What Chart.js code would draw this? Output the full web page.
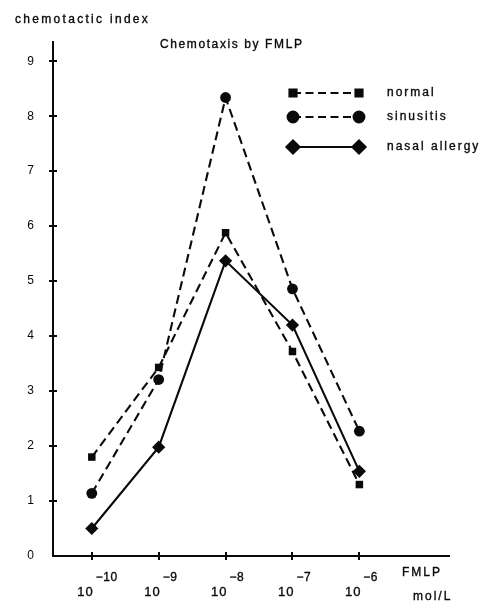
<!DOCTYPE html>
<html>
<head>
<meta charset="utf-8">
<script src="https://cdn.jsdelivr.net/npm/chart.js@4.4.1/dist/chart.umd.min.js"></script>
<style>
  html, body { margin: 0; padding: 0; background: #fff; }
</style>
</head>
<body>
<canvas id="chemotaxisChart" width="482" height="605"></canvas>
<script>
// FMLP concentration, as powers of ten (mol/L)
const exponents = [-10, -9, -8, -7, -6];
const exponentLabels = ['\u221210', '\u22129', '\u22128', '\u22127', '\u22126'];
const yTicks = [0, 1, 2, 3, 4, 5, 6, 7, 8, 9];

// chemotactic index
const normal = [1.8, 3.43, 5.88, 3.72, 1.3];
const sinusitis = [1.14, 3.21, 8.34, 4.86, 2.27];
const nasalAllergy = [0.5, 1.98, 5.37, 4.2, 1.54];
const seriesNames = ['normal', 'sinusitis', 'nasal allergy'];

const FONT = '"Liberation Sans", Arial, Helvetica, sans-serif';
const INK = '#0a0a0a';

const toPoints = (values) => values.map((v, i) => ({ x: exponents[i], y: v }));

// slightly heavier text, like the printed figure
function inkText(ctx, text, x, y) {
  ctx.fillText(text, x, y);
  ctx.strokeText(text, x, y);
}

// extra text, crossing tick marks and the legend
const decorations = {
  id: 'decorations',
  afterDraw(chart) {
    const { ctx, chartArea, scales: { x, y } } = chart;
    ctx.save();
    ctx.strokeStyle = INK;
    ctx.fillStyle = INK;
    ctx.lineWidth = 2;

    // tick marks crossing both axes
    yTicks.forEach(v => {
      if (v === 0) return;
      const py = Math.round(y.getPixelForValue(v));
      ctx.beginPath();
      ctx.moveTo(chartArea.left - 4, py);
      ctx.lineTo(chartArea.left + 4, py);
      ctx.stroke();
    });
    exponents.forEach(v => {
      const px = Math.round(x.getPixelForValue(v));
      ctx.beginPath();
      ctx.moveTo(px, chartArea.bottom - 4);
      ctx.lineTo(px, chartArea.bottom + 4);
      ctx.stroke();
    });

    ctx.lineWidth = 0.35;
    ctx.textBaseline = 'middle';

    // x tick labels: 10 with exponent
    exponents.forEach((v, i) => {
      const px = x.getPixelForValue(v);
      ctx.font = '13px ' + FONT;
      ctx.letterSpacing = '1px';
      ctx.textAlign = 'right';
      inkText(ctx, '10', px + 2, chartArea.bottom + 36);
      ctx.font = '12px ' + FONT;
      ctx.letterSpacing = '0.5px';
      ctx.textAlign = 'left';
      inkText(ctx, exponentLabels[i], px + 4, chartArea.bottom + 22);
    });

    ctx.font = '12px ' + FONT;
    ctx.textAlign = 'left';
    ctx.letterSpacing = '2px';
    inkText(ctx, 'FMLP', 402, chartArea.bottom + 17);
    inkText(ctx, 'mol/L', 413, chartArea.bottom + 41);
    ctx.letterSpacing = '2.3px';
    inkText(ctx, 'chemotactic index', 15, 20);
    ctx.letterSpacing = '1.6px';
    inkText(ctx, 'Chemotaxis by FMLP', 160, 45);

    // legend: line with a marker at each end
    const rows = [93, 117, 147];
    chart.data.datasets.forEach((ds, i) => {
      const ly = rows[i];
      ctx.lineWidth = ds.borderWidth;
      ctx.setLineDash(ds.borderDash ? [8, 4.5] : []);
      ctx.beginPath();
      ctx.moveTo(293, ly);
      ctx.lineTo(359, ly);
      ctx.stroke();
      ctx.setLineDash([]);
      [293, 359].forEach(mx => {
        Chart.helpers.drawPoint(ctx, {
          pointStyle: ds.pointStyle,
          radius: ds.pointStyle === 'rect' ? 5 : ds.pointRadius,
          borderWidth: 1,
          rotation: 0
        }, mx, ly);
      });
      ctx.lineWidth = 0.35;
      ctx.letterSpacing = '2px';
      inkText(ctx, ds.label, 387, ly);
    });
    ctx.restore();
  }
};

const ctx = document.getElementById('chemotaxisChart').getContext('2d');
new Chart(ctx, {
  type: 'line',
  data: {
    datasets: [
      {
        label: seriesNames[0],
        data: toPoints(normal),
        borderColor: INK,
        backgroundColor: INK,
        borderWidth: 2.1,
        borderDash: [9, 5],
        pointStyle: 'rect',
        pointRadius: 5.3,
        pointBorderWidth: 0
      },
      {
        label: seriesNames[1],
        data: toPoints(sinusitis),
        borderColor: INK,
        backgroundColor: INK,
        borderWidth: 2.1,
        borderDash: [9, 5],
        pointStyle: 'circle',
        pointRadius: 5.4,
        pointBorderWidth: 0
      },
      {
        label: seriesNames[2],
        data: toPoints(nasalAllergy),
        borderColor: INK,
        backgroundColor: INK,
        borderWidth: 2.1,
        pointStyle: 'rectRot',
        pointRadius: 6.6,
        pointBorderWidth: 0
      }
    ]
  },
  options: {
    responsive: false,
    animation: false,
    layout: { padding: { top: 42, right: 33, left: 0, bottom: 0 } },
    plugins: {
      legend: { display: false },
      tooltip: { enabled: false }
    },
    scales: {
      x: {
        type: 'linear',
        min: -10.58,
        max: -4.66,
        afterBuildTicks: (scale) => { scale.ticks = exponents.map(v => ({ value: v })); },
        afterFit: (scale) => { scale.height = 49; },
        ticks: { display: false },
        grid: { drawOnChartArea: false, drawTicks: false },
        border: { color: INK, width: 2 }
      },
      y: {
        min: 0,
        max: 9.35,
        afterBuildTicks: (scale) => { scale.ticks = yTicks.map(v => ({ value: v })); },
        afterFit: (scale) => { scale.width = 53; },
        ticks: { color: INK, padding: 19, font: { family: FONT, size: 12 } },
        grid: { drawOnChartArea: false, drawTicks: false },
        border: { color: INK, width: 2 }
      }
    }
  },
  plugins: [decorations]
});
</script>
</body>
</html>
